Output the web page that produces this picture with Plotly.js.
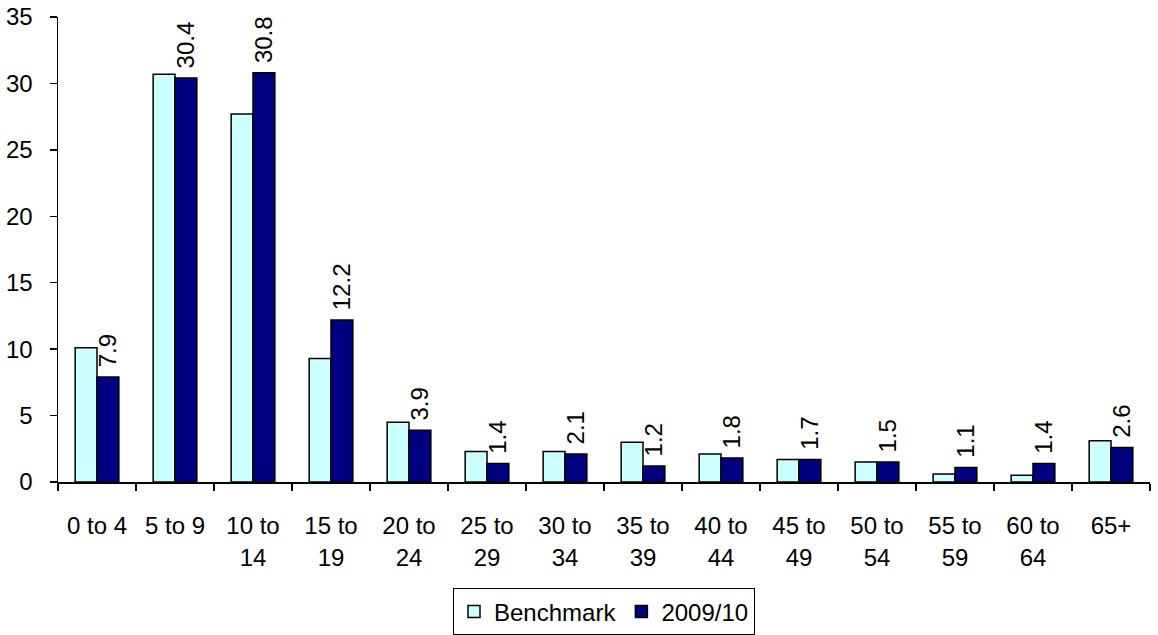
<!DOCTYPE html>
<html>
<head>
<meta charset="utf-8">
<script src="https://cdn.plot.ly/plotly-3.0.1.min.js"></script>
<style>
  html, body { margin: 0; padding: 0; background: #fff; }
  #chart { width: 1158px; height: 635px; }
</style>
</head>
<body>
<div id="chart"></div>
<script>
// Age groups (two-line labels where the range wraps)
const ageGroups = ['0 to 4', '5 to 9', '10 to<br>14', '15 to<br>19', '20 to<br>24', '25 to<br>29',
  '30 to<br>34', '35 to<br>39', '40 to<br>44', '45 to<br>49', '50 to<br>54', '55 to<br>59',
  '60 to<br>64', '65+'];

// Percentage shares per age group
const benchmark = [10.1, 30.7, 27.7, 9.3, 4.5, 2.3, 2.3, 3.0, 2.1, 1.7, 1.5, 0.6, 0.5, 3.1];
const year2009 = [7.9, 30.4, 30.8, 12.2, 3.9, 1.4, 2.1, 1.2, 1.8, 1.7, 1.5, 1.1, 1.4, 2.6];

const font = { family: '"Liberation Sans", Arial, sans-serif', size: 24, color: '#000' };

const traces = [
  {
    type: 'bar',
    name: 'Benchmark',
    x: ageGroups,
    y: benchmark,
    marker: { color: '#CCFFFF', line: { color: '#000', width: 1.5 } },
    hoverinfo: 'skip'
  },
  {
    type: 'bar',
    name: '2009/10',
    x: ageGroups,
    y: year2009,
    // a leading space keeps the rotated value clear of the bar top
    text: year2009.map(v => '\u00a0' + v.toFixed(1)),
    textposition: 'outside',
    textangle: -90,
    constraintext: 'none',
    cliponaxis: false,
    textfont: font,
    marker: { color: '#000080', line: { color: '#000', width: 1.5 } },
    hoverinfo: 'skip'
  }
];

const layout = {
  width: 1158,
  height: 635,
  margin: { l: 58, r: 8, t: 17, b: 153, autoexpand: false },
  paper_bgcolor: '#fff',
  plot_bgcolor: '#fff',
  font: font,
  barmode: 'group',
  bargap: 0.44,
  bargroupgap: 0,
  showlegend: true,
  legend: {
    orientation: 'h',
    x: 0.5, xanchor: 'center',
    y: -0.229, yanchor: 'top',
    bordercolor: '#000', borderwidth: 1,
    font: font,
    itemwidth: 30,
    tracegroupgap: 0
  },
  xaxis: {
    type: 'category',
    automargin: false,
    showline: true, linecolor: '#000', linewidth: 1.5,
    ticks: 'outside', tickson: 'boundaries', ticklen: 7, tickcolor: '#000', tickwidth: 1.5,
    showgrid: false, zeroline: false,
    ticklabelstandoff: 22,
    tickfont: font
  },
  yaxis: {
    range: [0, 35],
    dtick: 5,
    automargin: false,
    showline: true, linecolor: '#000', linewidth: 1.5,
    ticks: 'outside', ticklen: 7, tickcolor: '#000', tickwidth: 1.5,
    showgrid: false, zeroline: false,
    ticklabelstandoff: 12,
    tickfont: font
  }
};

Plotly.newPlot('chart', traces, layout, { displayModeBar: false, staticPlot: true });
</script>
</body>
</html>
